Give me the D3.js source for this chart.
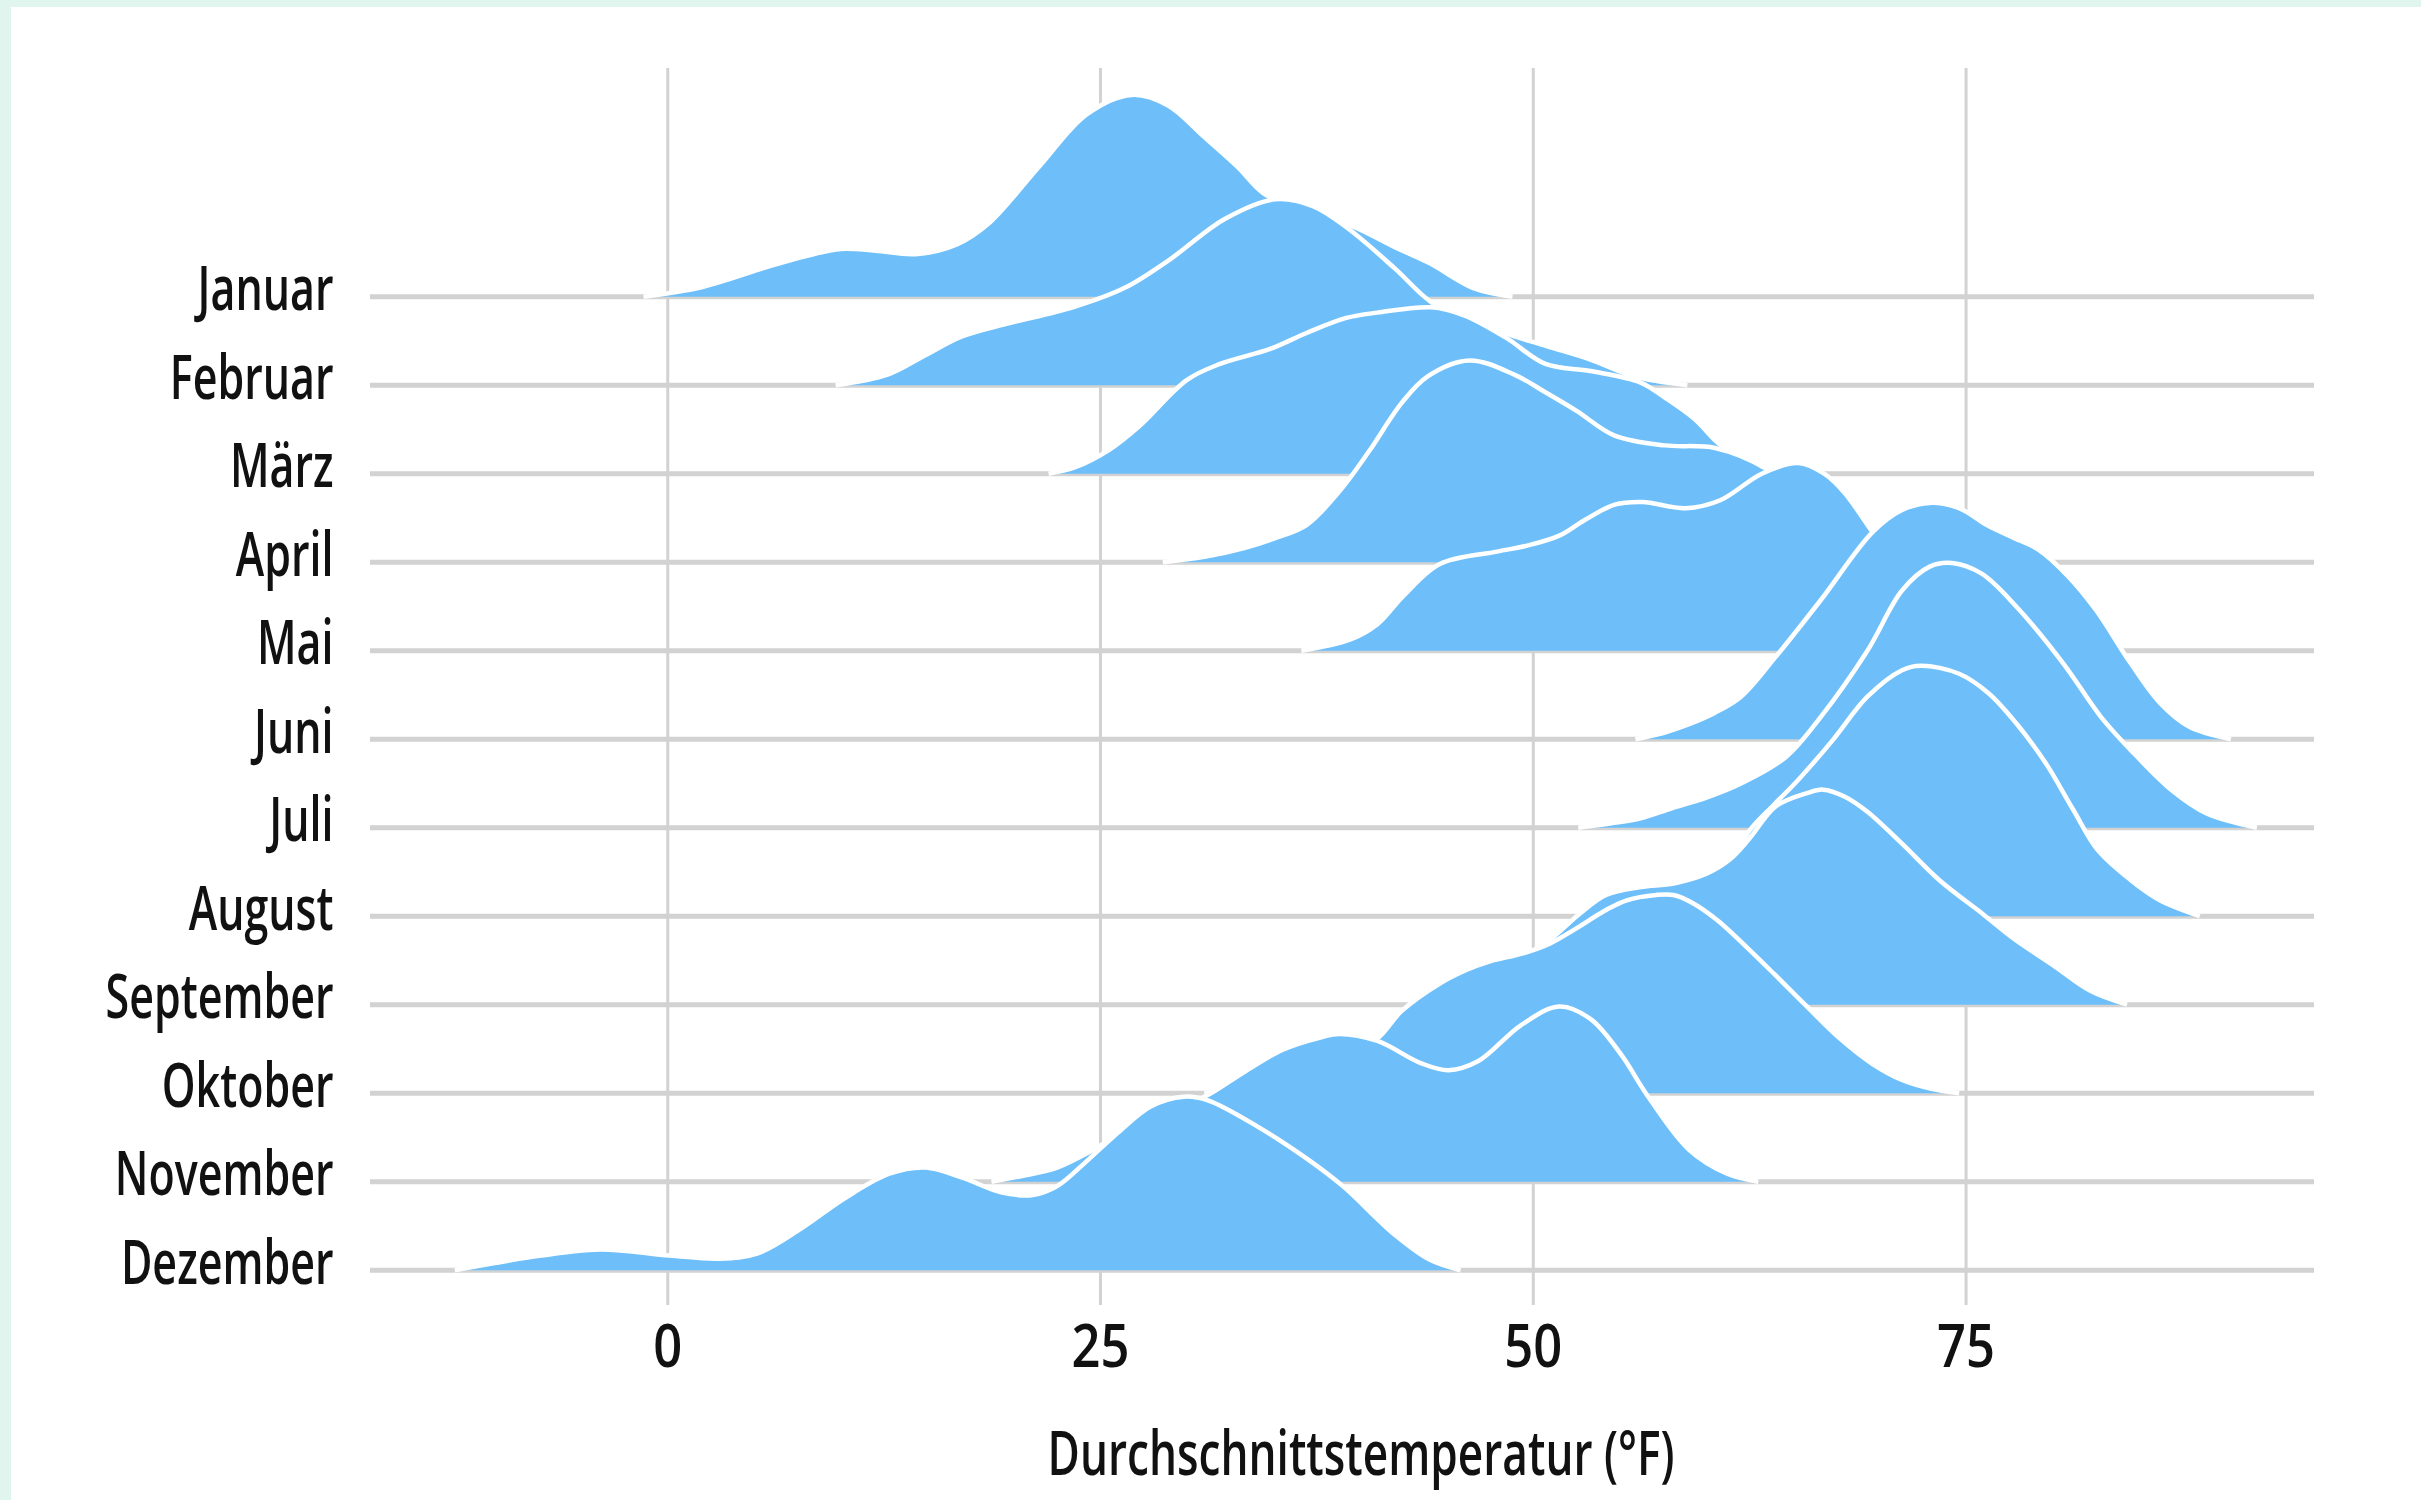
<!DOCTYPE html>
<html>
<head>
<meta charset="utf-8">
<script src="https://cdn.jsdelivr.net/npm/d3@7"></script>
<style>
  html, body { margin: 0; padding: 0; background: #dff5ee; }
  svg { display: block; }
</style>
</head>
<body>
<svg id="chart" width="2421" height="1500"></svg>
<script>
// ---------- data ----------
const months = ["Januar", "Februar", "März", "April", "Mai", "Juni",
                "Juli", "August", "September", "Oktober", "November", "Dezember"];
const xTicks = [0, 25, 50, 75];
const xTitle = "Durchschnittstemperatur (°F)";

// [temperature °F, ridge height in row units]
const januar = [[-1.4,0],[2,0.11],[5.8,0.34],[8,0.46],[10,0.54],[12,0.52],[14.3,0.48],[16.7,0.59],[18.5,0.82],[21.5,1.48],[24.2,2.06],[26.8,2.28],[28.9,2.16],[30.9,1.82],[32.9,1.47],[34.4,1.17],[36.5,0.98],[39.5,0.8],[42,0.56],[44,0.38],[46.5,0.1],[48.8,0]];
const februar = [[9.7,0],[12.7,0.12],[14.8,0.33],[17,0.55],[19.5,0.69],[23.4,0.88],[26.4,1.1],[29,1.42],[32.2,1.88],[35.1,2.1],[37.3,2.02],[39.3,1.77],[42,1.32],[44.1,0.94],[46.3,0.74],[48.4,0.585],[50.8,0.44],[53.3,0.29],[55.8,0.1],[58.9,0]];
const maerz = [[22,0],[23.5,0.07],[25.5,0.27],[27.2,0.53],[30,1.06],[31.9,1.24],[34.8,1.41],[36.9,1.59],[39.2,1.76],[41,1.82],[44.1,1.88],[46,1.79],[48.4,1.54],[50.7,1.24],[53.3,1.16],[56.2,1.03],[57.6,0.86],[59.3,0.62],[60.6,0.36],[62,0.14],[63.5,0.03],[64.5,0]];
const april = [[28.6,0],[31,0.06],[33.3,0.16],[35.2,0.28],[36.9,0.42],[38.8,0.8],[40.5,1.25],[42.4,1.8],[43.9,2.1],[46.3,2.28],[48.9,2.12],[50.7,1.92],[52.5,1.71],[54.7,1.43],[57.6,1.32],[60.5,1.29],[63.4,1.06],[65,0.8],[67,0.45],[68.5,0.15],[69.5,0]];
const mai = [[36.6,0],[39.4,0.125],[41,0.3],[42.5,0.62],[44.6,0.98],[47.9,1.12],[49.7,1.19],[51.5,1.3],[53,1.48],[54.7,1.65],[56.3,1.68],[58.8,1.61],[60.8,1.7],[63.2,2.0],[65.3,2.12],[66.8,2.0],[68,1.78],[69.6,1.34],[71,1.0],[73,0.62],[75,0.3],[77,0.08],[78.5,0]];
const juni = [[55.9,0],[57.5,0.07],[59,0.17],[60.5,0.3],[62,0.48],[64,0.93],[66.6,1.57],[69.6,2.34],[71.3,2.59],[72.9,2.67],[74.6,2.61],[76.2,2.42],[77.7,2.28],[79.2,2.14],[80.9,1.84],[82.5,1.46],[84.5,0.86],[86.2,0.41],[87.9,0.14],[90.3,0]];
const juli = [[52.6,0],[54.5,0.05],[56.2,0.106],[58,0.22],[60,0.34],[62,0.5],[64.6,0.8],[66.6,1.25],[69.3,2.0],[71.3,2.68],[72.9,2.95],[74.2,2.99],[75.9,2.87],[77.9,2.5],[80.6,1.86],[82.8,1.25],[84.5,0.88],[86.9,0.42],[88.9,0.16],[91.8,0]];
const august = [[54,0],[56,0.08],[58,0.2],[60,0.42],[61.5,0.66],[62.5,0.97],[63.9,1.26],[65.3,1.54],[67.3,1.99],[69.3,2.48],[71.3,2.78],[72.4,2.83],[74.6,2.74],[76.3,2.52],[77.9,2.18],[79.6,1.73],[81.2,1.2],[82.6,0.75],[84.5,0.41],[86.2,0.18],[88.5,0]];
const september = [[43,0],[44.6,0.14],[46.1,0.28],[47.5,0.4],[49.4,0.54],[51,0.74],[52.7,1.03],[54.2,1.24],[56.2,1.33],[58.1,1.37],[60,1.48],[61.35,1.64],[62.5,1.88],[64,2.24],[65.8,2.39],[66.75,2.43],[68,2.35],[69.3,2.18],[71.3,1.82],[73.5,1.4],[76,1.02],[77.8,0.74],[80,0.45],[82.15,0.16],[84.3,0]];
const oktober = [[31,0],[34,0.12],[37,0.3],[39.5,0.5],[41,0.62],[42.4,0.93],[44.6,1.24],[46.1,1.39],[47.5,1.49],[49.4,1.58],[50.95,1.69],[52.3,1.84],[54.2,2.07],[55.4,2.18],[57.1,2.24],[58.1,2.24],[59.2,2.15],[60.6,1.96],[61.9,1.73],[63.9,1.35],[65.8,0.98],[67.7,0.62],[69.6,0.33],[71.3,0.15],[73,0.05],[74.6,0]];
const november = [[18.7,0],[21.1,0.09],[22.5,0.16],[24.3,0.33],[25.6,0.48],[27.5,0.66],[29.5,0.83],[31.3,0.99],[33.3,1.24],[35.5,1.49],[37.7,1.63],[38.8,1.67],[41,1.59],[43.5,1.34],[45.1,1.26],[46.8,1.36],[49.3,1.77],[51.5,1.98],[53.3,1.84],[55.1,1.43],[56.5,1.0],[59,0.36],[61.2,0.09],[63,0]];
const dezember = [[-12.3,0],[-10,0.08],[-8.2,0.14],[-3.9,0.235],[0.1,0.166],[3,0.13],[5.2,0.19],[7.7,0.47],[10.2,0.81],[12.8,1.09],[14.9,1.16],[17.1,1.04],[19.25,0.88],[21.1,0.85],[22.5,0.95],[24.3,1.25],[26.1,1.57],[27.9,1.85],[29.8,1.96],[31.2,1.92],[34.1,1.62],[37,1.25],[39,0.95],[42,0.4],[44,0.12],[45.8,0]];

const series = [januar, februar, maerz, april, mai, juni, juli, august, september, oktober, november, dezember];

// ---------- layout & style ----------
const W = 2421, H = 1500;
const FONT = "'Open Sans', 'DejaVu Sans', 'Liberation Sans', sans-serif";
const panel = { left: 370, right: 2314, top: 68, bottom: 1305 };
const fillColor = "#6ebff9";
const gridColor = "#d2d2d2";
const textColor = "#111111";

const svg = d3.select("#chart");
svg.append("rect").attr("width", W).attr("height", H).attr("fill", "#dff5ee");
svg.append("rect").attr("x", 11).attr("y", 7).attr("width", W - 11).attr("height", H - 7).attr("fill", "#ffffff");

const x = d3.scaleLinear().domain([-17.2, 95.1]).range([panel.left, panel.right]);
const y = d3.scalePoint().domain(months).range([296.7, 1270.2]);
const h = d3.scaleLinear().domain([0, 1]).range([0, y.step()]);

// gridlines
const grid = svg.append("g");
grid.selectAll("line.v").data(xTicks).join("line")
  .attr("class", "v")
  .attr("x1", d => x(d)).attr("x2", d => x(d))
  .attr("y1", panel.top).attr("y2", panel.bottom)
  .attr("stroke", gridColor).attr("stroke-width", 3);
grid.selectAll("line.h").data(months).join("line")
  .attr("class", "h")
  .attr("x1", panel.left).attr("x2", panel.right)
  .attr("y1", d => y(d)).attr("y2", d => y(d))
  .attr("stroke", gridColor).attr("stroke-width", 5);

// ridges (top to bottom, later rows in front)
const curve = d3.curveCatmullRom.alpha(0.5);
const ridges = svg.append("g");
months.forEach((m, i) => {
  const base = y(m);
  const area = d3.area()
    .x(d => x(d[0]))
    .y0(base)
    .y1(d => Math.min(base, base - h(d[1])))
    .curve(curve);
  const line = d3.line()
    .x(d => x(d[0]))
    .y(d => base - h(d[1]))
    .curve(curve);
  const g = ridges.append("g");
  g.append("path").datum(series[i]).attr("d", area).attr("fill", fillColor);
  g.append("path").datum(series[i]).attr("d", line)
    .attr("fill", "none").attr("stroke", "#ffffff")
    .attr("stroke-width", 4.5).attr("stroke-linejoin", "round");
});

// text width fitting (condensed look)
function fitFactor(str, size, weight, target) {
  const t = svg.append("text").attr("font-family", FONT).attr("font-size", size)
    .attr("font-weight", weight).text(str);
  const w = t.node().getComputedTextLength();
  t.remove();
  return w > 0 ? target / w : 1;
}
const WEIGHT = 600;
const fLab = fitFactor("September", 62, WEIGHT, 228);
const fTick = fitFactor("25", 59, WEIGHT, 58);
const fTitle = fitFactor(xTitle, 62, WEIGHT, 627);

// month labels
svg.append("g").selectAll("text").data(months).join("text")
  .attr("transform", d => `translate(333.5,${y(d) + 13.5}) scale(${fLab},1)`)
  .attr("text-anchor", "end")
  .attr("font-family", FONT).attr("font-size", 62).attr("font-weight", WEIGHT)
  .attr("fill", textColor)
  .text(d => d);

// x tick labels
svg.append("g").selectAll("text").data(xTicks).join("text")
  .attr("transform", d => `translate(${x(d)},1367) scale(${fTick},1)`)
  .attr("text-anchor", "middle")
  .attr("font-family", FONT).attr("font-size", 59).attr("font-weight", WEIGHT)
  .attr("fill", textColor)
  .text(d => d);

// axis title
svg.append("text")
  .attr("transform", `translate(1361,1475) scale(${fTitle},1)`)
  .attr("text-anchor", "middle")
  .attr("font-family", FONT).attr("font-size", 62).attr("font-weight", WEIGHT)
  .attr("fill", textColor)
  .text(xTitle);
</script>
</body>
</html>
